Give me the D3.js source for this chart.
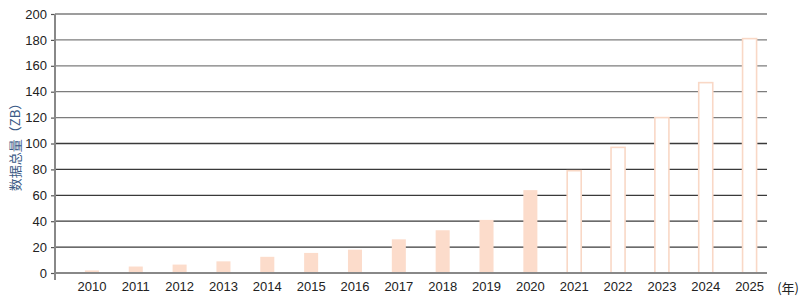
<!DOCTYPE html>
<html>
<head>
<meta charset="utf-8">
<script src="https://cdn.jsdelivr.net/npm/d3@7"></script>
<style>
  body { margin: 0; background: #fff; }
  text { font-family: "Liberation Sans", Arial, sans-serif; }
</style>
</head>
<body>
<div id="chart"></div>
<script>
// Data
const years = ["2010", "2011", "2012", "2013", "2014", "2015", "2016", "2017",
               "2018", "2019", "2020", "2021", "2022", "2023", "2024", "2025"]
const totals = [2, 5, 6.5, 9, 12.5, 15.5, 18, 26, 33, 41, 64, 79, 97, 120, 147, 181]
const forecastFrom = "2021"   // bars from this year on are outlined
const yTicks = [0, 20, 40, 60, 80, 100, 120, 140, 160, 180, 200]

const data = years.map((y, i) => ({ year: y, total: totals[i] }))

const W = 801, H = 300
const plotLeft = 55, plotRight = 767, plotTop = 14, plotBottom = 273

const svg = d3.select("#chart").append("svg")
  .attr("width", W)
  .attr("height", H)

const x = d3.scaleBand()
  .domain(years)
  .range([70, 771.5])
  .paddingInner(0.68)
  .paddingOuter(0.34)

const y = d3.scaleLinear()
  .domain([0, 200])
  .range([plotBottom, plotTop])

// horizontal gridlines
svg.selectAll("line.grid")
  .data(yTicks.filter(d => d > 0))
  .enter().append("line")
  .attr("class", "grid")
  .attr("x1", plotLeft)
  .attr("x2", plotRight)
  .attr("y1", d => y(d))
  .attr("y2", d => y(d))
  .style("stroke", d => d >= 120 ? "#7c7c7c" : "#3a3a3a")
  .style("stroke-width", 1.3)

// bars
const fc = years.indexOf(forecastFrom)
svg.selectAll(".bar")
  .data(data)
  .enter().append("rect")
  .attr("class", "bar")
  .attr("x", d => x(d.year))
  .attr("width", x.bandwidth())
  .attr("y", d => y(d.total))
  .attr("height", d => y(0) - y(d.total))
  .attr("fill", (d, i) => i >= fc ? "#fff" : "#fcdccb")
  .attr("stroke", (d, i) => i >= fc ? "#f9d8c6" : "none")
  .attr("stroke-width", 1.6)

// y axis
const yAxis = d3.axisLeft(y)
  .tickValues(yTicks)
  .tickSize(4)
  .tickPadding(4)

svg.append("g")
  .attr("class", "y axis")
  .attr("transform", "translate(" + plotLeft + ",0)")
  .call(yAxis)
  .call(g => g.select(".domain").remove())
  .call(g => g.selectAll(".tick line").style("stroke", "#555").style("stroke-width", 1.2))
  .call(g => g.selectAll(".tick text").style("font-size", "13px").style("fill", "#222"))

svg.append("line")
  .attr("x1", plotLeft).attr("x2", plotLeft)
  .attr("y1", plotTop).attr("y2", plotBottom + 7)
  .style("stroke", "#888").style("stroke-width", 2)

// baseline
svg.append("line")
  .attr("x1", plotLeft).attr("x2", plotRight)
  .attr("y1", y(0)).attr("y2", y(0))
  .style("stroke", "#888").style("stroke-width", 2)

// x axis labels
const xAxis = d3.axisBottom(x).tickSize(0).tickPadding(9)
svg.append("g")
  .attr("class", "x axis")
  .attr("transform", "translate(0," + plotBottom + ")")
  .call(xAxis)
  .call(g => g.select(".domain").remove())
  .call(g => g.selectAll(".tick text").style("font-size", "13px").style("fill", "#222"))

svg.append("text")
  .attr("x", 799)
  .attr("y", 293)
  .attr("text-anchor", "end")
  .style("font-size", "13px")
  .style("fill", "#222")
  .style("font-family", "'Noto Sans CJK SC', sans-serif")
  .text("(年)")

// y title
svg.append("text")
  .attr("transform", "translate(20,144) rotate(-90)")
  .attr("text-anchor", "middle")
  .style("font-size", "13px")
  .style("fill", "#3b5a86")
  .style("font-family", "'Noto Sans CJK SC', sans-serif")
  .text("数据总量（ZB）")
</script>
</body>
</html>
